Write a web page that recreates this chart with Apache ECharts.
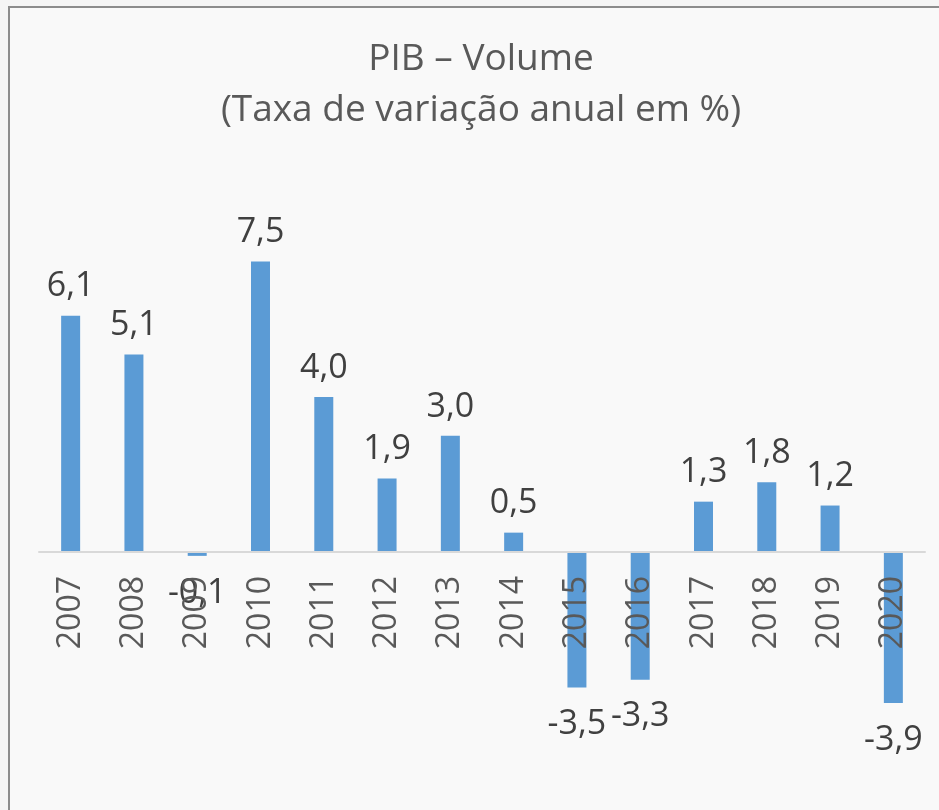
<!DOCTYPE html>
<html><head><meta charset="utf-8">
<script src="https://cdn.jsdelivr.net/npm/echarts@6/dist/echarts.min.js"></script>
<style>html,body{margin:0;padding:0;background:#f5f5f5;}#c{width:939px;height:810px;}</style>
</head><body><div id="c"></div>
<script>
const years = ['2007','2008','2009','2010','2011','2012','2013','2014','2015','2016','2017','2018','2019','2020'];
const growth = [6.1, 5.1, -0.1, 7.5, 4.0, 1.9, 3.0, 0.5, -3.5, -3.3, 1.3, 1.8, 1.2, -3.9];
const titleText = 'PIB – Volume';
const subtitleText = '(Taxa de variação anual em %)';

const FONT = '"Open Sans", "Noto Sans", sans-serif';
const Y_MIN = -4, Y_MAX = 8;
const GRID_TOP = 242.2, GRID_BOTTOM = 103.1;
const plotH = 810 - GRID_TOP - GRID_BOTTOM;
const zeroFromBottom = plotH * (0 - Y_MIN) / (Y_MAX - Y_MIN);

const chart = echarts.init(document.getElementById('c'), null, {renderer: 'canvas'});
chart.setOption({
  backgroundColor: '#f5f5f5',
  animation: false,
  graphic: [{
    type: 'rect', z: -10,
    shape: {x: 9, y: 7, width: 960, height: 840},
    style: {fill: '#f9f9f9', stroke: '#8c8c8c', lineWidth: 2}
  }],
  title: {
    text: titleText + '\n' + subtitleText,
    left: 476, top: 29, textAlign: 'center',
    textStyle: {fontFamily: FONT, fontSize: 37, fontWeight: 'normal', color: '#595959', lineHeight: 51}
  },
  grid: {left: 39, right: 14, top: GRID_TOP, bottom: GRID_BOTTOM, containLabel: false},
  xAxis: {
    type: 'category', data: years, z: 10,
    axisLine: {show: true, onZero: true, lineStyle: {color: '#d9d9d9', width: 2}},
    axisTick: {show: false},
    axisLabel: {rotate: 90, margin: 24 - zeroFromBottom, fontFamily: FONT, fontSize: 32, color: '#595959', interval: 0}
  },
  yAxis: {
    type: 'value', min: Y_MIN, max: Y_MAX, show: false,
    splitLine: {show: false}
  },
  series: [{
    type: 'bar', z: 2,
    data: growth.map(v => ({value: v, label: {distance: v < 0 ? 20 : 12}})),
    barWidth: '30%',
    itemStyle: {color: '#5b9bd5'},
    label: {
      show: true, position: 'outside',
      fontFamily: FONT, fontSize: 34, color: '#404040',
      formatter: p => p.value.toFixed(1).replace('.', ',')
    }
  }]
});
</script></body></html>
